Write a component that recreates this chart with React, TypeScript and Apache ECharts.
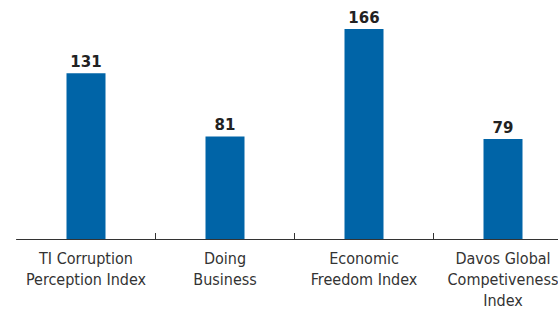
import React, { useEffect, useRef } from "react";
import * as echarts from "echarts";

const categories = [
  "TI Corruption\nPerception Index",
  "Doing\nBusiness",
  "Economic\nFreedom Index",
  "Davos Global\nCompetiveness\nIndex",
];
const values = [131, 81, 166, 79];

export default function App() {
  const ref = useRef<HTMLDivElement>(null);
  useEffect(() => {
    document.body.style.margin = "0";
    const chart = echarts.init(ref.current!, undefined, { renderer: "svg" });
    chart.setOption({
      animation: false,
      grid: { left: 16.5, right: 7.5, top: 11.4, bottom: 71 },
      xAxis: {
        type: "category",
        data: categories,
        axisLine: { show: true, lineStyle: { color: "#333", width: 1 } },
        axisTick: {
          show: true,
          inside: true,
          length: 6,
          interval: (i: number) => i !== 0,
          lineStyle: { color: "#333", width: 1 },
        },
        axisLabel: {
          interval: 0,
          margin: 9,
          fontFamily: "'Liberation Sans Narrow', 'DejaVu Sans Condensed', sans-serif",
          fontSize: 16,
          lineHeight: 21,
          color: "#333",
        },
      },
      yAxis: {
        type: "value",
        min: 0,
        max: 180,
        show: false,
        splitLine: { show: false },
      },
      series: [
        {
          type: "bar",
          data: values,
          barWidth: 39,
          itemStyle: { color: "#0064a7" },
          label: {
            show: true,
            position: "top",
            distance: 4,
            fontFamily: "'DejaVu Sans', sans-serif",
            fontWeight: "bold",
            fontSize: 15,
            color: "#222",
          },
        },
      ],
    });
    return () => chart.dispose();
  }, []);
  return (
    <div style={{ width: 558, height: 311, overflow: "hidden", position: "relative" }}>
      <div ref={ref} style={{ width: 580, height: 311 }} />
    </div>
  );
}
